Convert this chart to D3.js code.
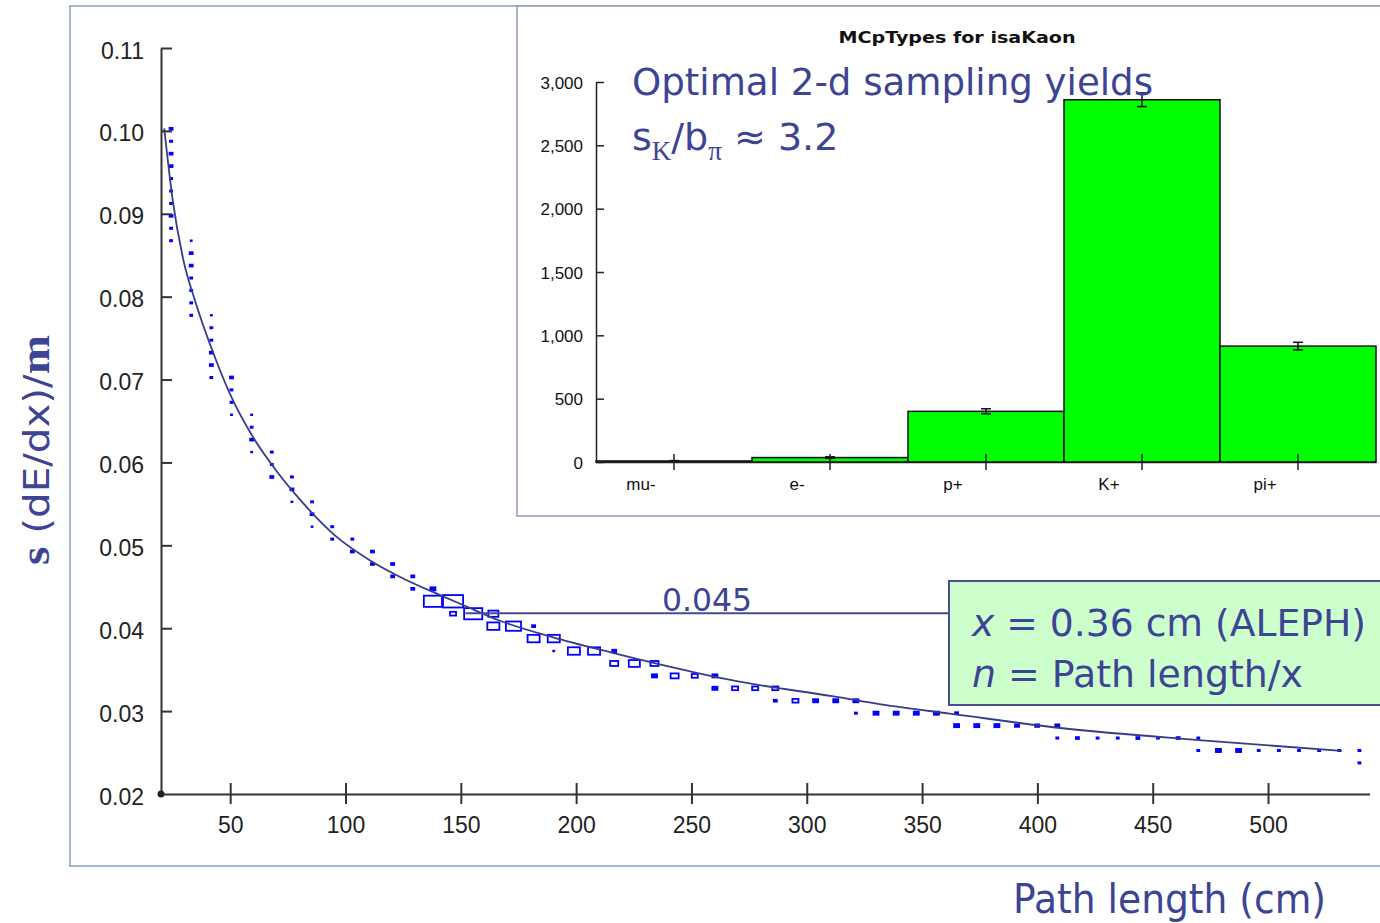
<!DOCTYPE html>
<html>
<head>
<meta charset="utf-8">
<script src="https://cdn.jsdelivr.net/npm/d3@7"></script>
<style>
  body { margin: 0; background: #fff; }
  svg { display: block; }
</style>
</head>
<body>
<svg id="chart" width="1380" height="923"></svg>
<script>
// ---- main plot: relative dE/dx resolution vs. path length ----
const xTicks = [50, 100, 150, 200, 250, 300, 350, 400, 450, 500];
const yTicks = [0.02, 0.03, 0.04, 0.05, 0.06, 0.07, 0.08, 0.09, 0.10, 0.11];

// fitted resolution curve: [path length (cm), sigma/mu]
const fitCurve = [
  [21.4, 0.1003], [25, 0.0918], [29.8, 0.0843], [35, 0.0793], [43.5, 0.0726],
  [50, 0.0682], [60, 0.0630], [70, 0.0590], [80, 0.0556], [95, 0.0513],
  [110, 0.0483], [125, 0.0460], [141, 0.0440], [151, 0.0428], [167, 0.0409],
  [190, 0.0389], [215, 0.0371], [240, 0.0354], [268, 0.0337], [311, 0.0318],
  [340, 0.0305], [362, 0.0297], [412, 0.0279], [470, 0.0265], [532, 0.0252]
];

// 2-d histogram, 60 x 60 bins: [path-length bin, resolution bin, entries]
const cells = [
  [0,53,3],[0,52,2],[0,51,3],[0,50,3],[0,49,2],[0,48,2],[0,47,2],[0,46,3],[0,45,2],[0,44,2],
  [1,44,1],[1,43,3],[1,42,3],[1,41,2],[1,40,2],[1,39,2],[1,38,2],
  [2,38,1],[2,37,2],[2,36,2],[2,35,3],[2,34,3],[2,33,2],
  [3,33,3],[3,32,2],[3,31,2],[3,30,1],
  [4,30,1],[4,29,2],[4,28,3],[4,27,1],
  [5,27,2],[5,26,2],[5,25,3],
  [6,25,2],[6,24,3],[6,23,1],
  [7,23,2],[7,22,3],[7,21,1],
  [8,21,2],[8,20,2],
  [9,20,2],[9,19,3],
  [10,19,3],[10,18,3],
  [11,18,3],[11,17,3],
  [12,17,3],[12,16,3],
  [13,16,5],[13,15,18],
  [14,15,20],[14,14,6],
  [15,14,18],
  [16,14,10],[16,13,12],
  [17,13,15],
  [18,13,3],[18,12,12],
  [19,12,12],[19,11,1],
  [20,11,12],
  [21,11,12],
  [22,11,4],[22,10,8],
  [23,10,11],
  [24,10,8],[24,9,5],
  [25,9,8],
  [26,9,6],
  [27,9,5],[27,8,5],
  [28,8,6],
  [29,8,6],
  [30,8,6],[30,7,3],
  [31,7,6],
  [32,7,5],
  [33,7,5],
  [34,7,5],[34,6,2],
  [35,6,5],[36,6,5],[37,6,5],[38,6,5],
  [39,6,3],[39,5,5],
  [40,5,5],[41,5,5],[42,5,4],[43,5,4],
  [44,5,4],[44,4,2],
  [45,4,3],[46,4,2],[47,4,2],[48,4,3],[49,4,2],[50,4,3],
  [51,4,2],[51,3,2],
  [52,3,5],[53,3,5],
  [54,3,2],[55,3,2],[56,3,2],[57,3,2],[58,3,2],
  [59,3,2],[59,2,2]
];

// ---- inset histogram: MC particle types passing the kaon selection ----
const particleTypes = ["mu-", "e-", "p+", "K+", "pi+"];
const particleCounts = [8, 35, 400, 2860, 915];
const particleErrors = [3, 6, 20, 54, 30];
const insetTicks = [0, 500, 1000, 1500, 2000, 2500, 3000];

// ---- styling ----
const ink = "#3d4494";
const sans = "'DejaVu Sans', Verdana, sans-serif";
const serif = "'Liberation Serif', 'DejaVu Serif', serif";
const axisFont = "'Liberation Sans', Arial, sans-serif";
const axisInk = "#333";

const svg = d3.select("#chart");

// outer frame of the plot panel
svg.append("rect")
  .attr("x", 70).attr("y", 6).attr("width", 1340).attr("height", 860)
  .attr("fill", "#fff").attr("stroke", "#a6b5cf").attr("stroke-width", 2);

// scales
const xMin = 20, xMax = 544, yMin = 0.02, yMax = 0.11, nBins = 60;
const x = d3.scaleLinear().domain([xMin, xMax]).range([161, 1369.5]);
const y = d3.scaleLinear().domain([yMin, yMax]).range([794, 48]);

// histogram boxes: box size proportional to bin content
const xBinWidth = (xMax - xMin) / nBins;
const yBinWidth = (yMax - yMin) / nBins;
const maxEntries = d3.max(cells, d => d[2]);
const fullW = x(xMin + xBinWidth) - x(xMin);
const fullH = y(yMin) - y(yMin + yBinWidth);
const boxW = d => fullW * d[2] / maxEntries;
const boxH = d => fullH * d[2] / maxEntries;
const boxBlue = "#0000ff";

svg.append("g")
  .selectAll("rect")
  .data(cells)
  .join("rect")
  .attr("x", d => x(xMin + (d[0] + 0.5) * xBinWidth) - boxW(d) / 2)
  .attr("y", d => y(yMin + (d[1] + 0.5) * yBinWidth) - boxH(d) / 2)
  .attr("width", boxW)
  .attr("height", boxH)
  .attr("fill", d => boxH(d) < 3.5 ? boxBlue : "none")   // tiny boxes render solid
  .attr("stroke", boxBlue)
  .attr("stroke-width", 1.8);

// fit curve
svg.append("path")
  .datum(fitCurve)
  .attr("fill", "none")
  .attr("stroke", "#383c88")
  .attr("stroke-width", 1.8)
  .attr("d", d3.line().x(d => x(d[0])).y(d => y(d[1])).curve(d3.curveMonotoneX));

// x axis with crossing ticks
const gx = svg.append("g")
  .attr("transform", `translate(0,${y(yMin)})`)
  .call(d3.axisBottom(x).tickValues(xTicks).tickSize(10).tickSizeOuter(0).tickFormat(d3.format("d")));
gx.select(".domain").attr("stroke", axisInk).attr("stroke-width", 2);
gx.selectAll(".tick line").attr("y1", -11).attr("stroke", axisInk).attr("stroke-width", 2);
gx.selectAll(".tick text")
  .attr("y", 39).attr("dy", null)
  .attr("fill", "#222")
  .style("font-family", axisFont).style("font-size", "23px");

// y axis with crossing ticks
const gy = svg.append("g")
  .attr("transform", `translate(${x(xMin)},0)`)
  .call(d3.axisLeft(y).tickValues(yTicks).tickSize(11).tickSizeOuter(0).tickFormat(d3.format(".2f")));
gy.select(".domain").attr("stroke", axisInk).attr("stroke-width", 2);
gy.selectAll(".tick line").attr("x2", d => d === yMin ? 0 : 11).attr("stroke", axisInk).attr("stroke-width", 2);
gy.selectAll(".tick text")
  .attr("x", -17).attr("dy", 10)
  .attr("fill", "#222")
  .style("font-family", axisFont).style("font-size", "23px");

svg.append("circle").attr("cx", x(xMin)).attr("cy", y(yMin)).attr("r", 3.5).attr("fill", "#222");

// y-axis title: sigma(dE/dx)/mu
const yTitle = svg.append("text")
  .attr("transform", "translate(49,450) rotate(-90)")
  .attr("text-anchor", "middle")
  .attr("fill", ink)
  .attr("textLength", 230).attr("lengthAdjust", "spacingAndGlyphs")
  .style("font-family", sans).style("font-size", "36px");
yTitle.append("tspan").style("font-family", serif).style("font-weight", "bold").style("font-size", "42px").text("s");
yTitle.append("tspan").text(" (dE/dx)/");
yTitle.append("tspan").style("font-family", serif).style("font-weight", "bold").style("font-size", "42px").text("m");

// x-axis title
svg.append("text")
  .attr("x", 1013).attr("y", 913)
  .attr("fill", ink)
  .attr("textLength", 313).attr("lengthAdjust", "spacingAndGlyphs")
  .style("font-family", sans).style("font-size", "40px")
  .text("Path length (cm)");

// ---- inset panel ----
svg.append("rect")
  .attr("x", 517).attr("y", 6).attr("width", 900).attr("height", 510)
  .attr("fill", "#fff").attr("stroke", "#8f9db9").attr("stroke-width", 1.5);

const xi = d3.scaleBand().domain(particleTypes).range([596, 1376]);
const yi = d3.scaleLinear().domain([0, 3000]).range([462, 82]);
const insetData = particleTypes.map((t, i) => ({ type: t, n: particleCounts[i], err: particleErrors[i] }));

svg.append("g")
  .selectAll("rect")
  .data(insetData)
  .join("rect")
  .attr("x", d => xi(d.type))
  .attr("y", d => yi(d.n))
  .attr("width", xi.bandwidth())
  .attr("height", d => yi(0) - yi(d.n))
  .attr("fill", "#00ff00")
  .attr("stroke", "#111")
  .attr("stroke-width", 1.5);

// statistical error bars
const eb = svg.append("g").attr("stroke", "#111").attr("stroke-width", 1.5);
insetData.forEach(d => {
  const cx = xi(d.type) + xi.bandwidth() / 2;
  eb.append("line").attr("x1", cx).attr("x2", cx).attr("y1", yi(d.n - d.err)).attr("y2", yi(d.n + d.err));
  eb.append("line").attr("x1", cx - 5).attr("x2", cx + 5).attr("y1", yi(d.n - d.err)).attr("y2", yi(d.n - d.err));
  eb.append("line").attr("x1", cx - 5).attr("x2", cx + 5).attr("y1", yi(d.n + d.err)).attr("y2", yi(d.n + d.err));
});

const giy = svg.append("g")
  .attr("transform", `translate(${xi.range()[0]},0)`)
  .call(d3.axisLeft(yi).tickValues(insetTicks).tickSize(9).tickSizeOuter(0).tickFormat(d3.format(",")));
giy.select(".domain").attr("stroke", "#222").attr("stroke-width", 1.5);
giy.selectAll(".tick line").attr("x2", 8).attr("stroke", "#222").attr("stroke-width", 1.5);
giy.selectAll(".tick text")
  .attr("x", -13).attr("dy", 6)
  .attr("fill", "#111")
  .style("font-family", axisFont).style("font-size", "17px");

const gix = svg.append("g")
  .attr("transform", `translate(0,${yi(0)})`)
  .call(d3.axisBottom(xi).tickSize(8).tickSizeOuter(0));
gix.select(".domain").attr("stroke", "#222").attr("stroke-width", 1.5);
gix.selectAll(".tick line").attr("y1", -8).attr("stroke", "#222").attr("stroke-width", 1.5);
gix.selectAll(".tick text")
  .attr("x", -33).attr("y", 28).attr("dy", null)
  .attr("fill", "#111")
  .style("font-family", axisFont).style("font-size", "17px");

svg.append("text")
  .attr("x", 957).attr("y", 43)
  .attr("text-anchor", "middle")
  .attr("fill", "#111")
  .attr("textLength", 237).attr("lengthAdjust", "spacingAndGlyphs")
  .style("font-family", sans).style("font-weight", "bold").style("font-size", "16px")
  .text("MCpTypes for isaKaon");

// ---- annotations ----
svg.append("text")
  .attr("x", 632).attr("y", 95)
  .attr("fill", ink)
  .attr("textLength", 521).attr("lengthAdjust", "spacingAndGlyphs")
  .style("font-family", sans).style("font-size", "38px")
  .text("Optimal 2-d sampling yields");

const ratio = svg.append("text")
  .attr("x", 632).attr("y", 150)
  .attr("fill", ink)
  .style("font-family", sans).style("font-size", "38px");
ratio.append("tspan").text("s");
ratio.append("tspan").attr("dy", 10).style("font-family", serif).style("font-size", "27px").text("K");
ratio.append("tspan").attr("dy", -10).text("/b");
ratio.append("tspan").attr("dy", 10).style("font-family", serif).style("font-size", "27px").text("π");
ratio.append("tspan").attr("dy", -10).text(" ≈ 3.2");

// leader line from the curve to the detector note
const leaderLevel = 0.0418;
svg.append("line")
  .attr("x1", x(152)).attr("x2", 949)
  .attr("y1", y(leaderLevel)).attr("y2", y(leaderLevel))
  .attr("stroke", "#464c8e").attr("stroke-width", 2);

svg.append("text")
  .attr("x", 662).attr("y", 611)
  .attr("fill", ink)
  .attr("textLength", 90).attr("lengthAdjust", "spacingAndGlyphs")
  .style("font-family", sans).style("font-size", "32px")
  .text("0.045");

svg.append("rect")
  .attr("x", 949).attr("y", 581).attr("width", 460).attr("height", 124)
  .attr("fill", "#ccffcc").attr("stroke", "#4b4f8f").attr("stroke-width", 2);

const note1 = svg.append("text")
  .attr("x", 972).attr("y", 636)
  .attr("fill", ink)
  .attr("textLength", 394).attr("lengthAdjust", "spacingAndGlyphs")
  .style("font-family", sans).style("font-size", "38px");
note1.append("tspan").style("font-style", "italic").text("x");
note1.append("tspan").text(" = 0.36 cm (ALEPH)");

const note2 = svg.append("text")
  .attr("x", 972).attr("y", 687)
  .attr("fill", ink)
  .attr("textLength", 331).attr("lengthAdjust", "spacingAndGlyphs")
  .style("font-family", sans).style("font-size", "38px");
note2.append("tspan").style("font-style", "italic").text("n");
note2.append("tspan").text(" = Path length/x");
</script>
</body>
</html>
